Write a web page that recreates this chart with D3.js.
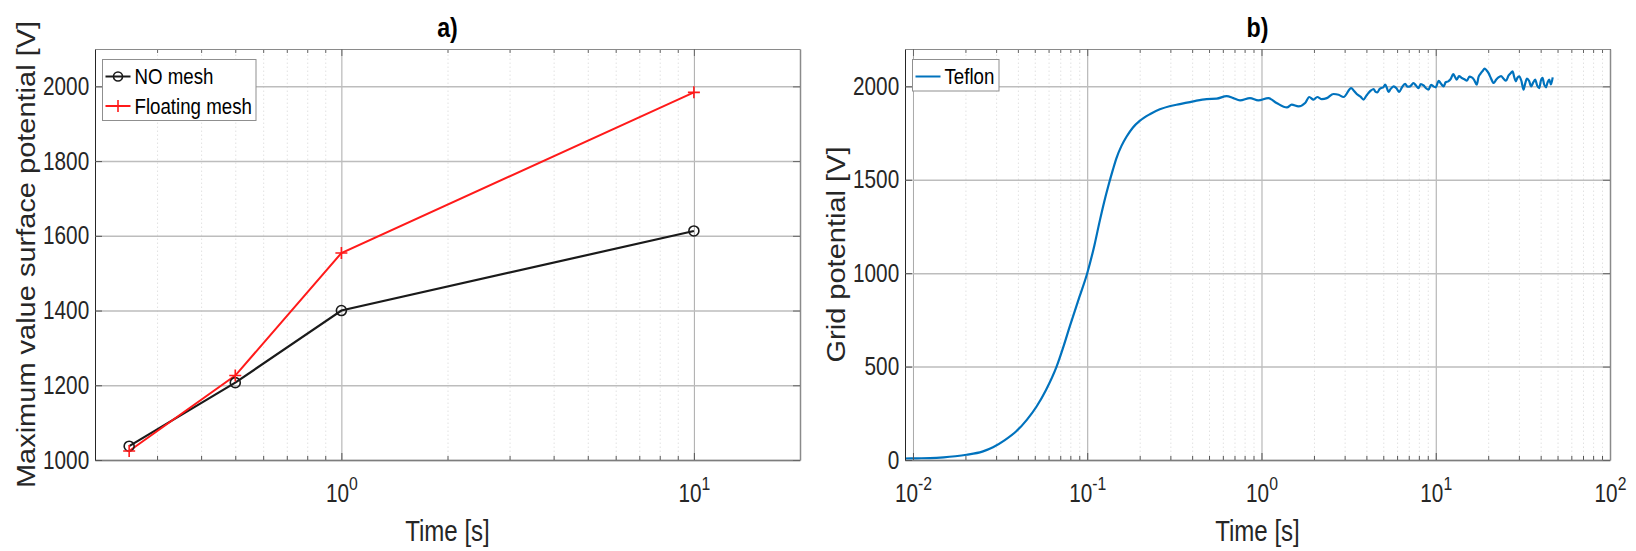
<!DOCTYPE html>
<html>
<head>
<meta charset="utf-8">
<script src="https://cdn.jsdelivr.net/npm/d3@7"></script>
<style>
  body { margin: 0; background: #fff; }
  svg { display: block; font-family: "Liberation Sans", Arial, Helvetica, sans-serif; }
</style>
</head>
<body>
<div id="wrapper"></div>
<script>
// ---- data ----
const timesA = [0.25, 0.5, 1, 10]
const noMesh = [1037, 1207, 1400, 1613]
const floatingMesh = [1024, 1226, 1554, 1984]
const xMajorA = [1, 10]
const yTicksA = [1000, 1200, 1400, 1600, 1800, 2000]

const xMajorB = [0.01, 0.1, 1, 10, 100]
const yTicksB = [0, 500, 1000, 1500, 2000]

// Teflon grid potential, [time s, volts]
const teflon = [
  [0.009, 8], [0.0105, 9], [0.0125, 10], [0.015, 14], [0.0175, 20], [0.0203, 28],
  [0.025, 45], [0.0288, 68], [0.0335, 105], [0.0393, 155], [0.045, 215], [0.0511, 285],
  [0.058, 375], [0.0667, 500], [0.0735, 615], [0.0794, 715], [0.09, 870], [0.1, 1000],
  [0.11, 1150], [0.118, 1280], [0.125, 1380], [0.132, 1465], [0.14, 1550], [0.147, 1615],
  [0.157, 1680], [0.168, 1730], [0.183, 1780], [0.2, 1815], [0.23, 1852], [0.261, 1877],
  [0.3, 1895], [0.34, 1905], [0.406, 1920], [0.484, 1932], [0.553, 1934], [0.631, 1948],
  [0.689, 1937], [0.753, 1925], [0.859, 1937], [0.959, 1925], [1.095, 1937], [1.22, 1911],
  [1.40, 1887], [1.49, 1902], [1.63, 1893], [1.78, 1911], [1.88, 1943], [1.99, 1929],
  [2.09, 1943], [2.22, 1932], [2.37, 1937], [2.59, 1959], [2.77, 1955], [2.96, 1943],
  [3.27, 1991], [3.4, 1975], [3.52, 1959], [3.7, 1945], [3.85, 1929], [4.0, 1950],
  [4.11, 1964], [4.25, 1978], [4.40, 1986], [4.5, 1972], [4.63, 1968], [4.75, 1985],
  [4.86, 1991], [5.0, 1995], [5.13, 2009], [5.25, 1990], [5.36, 1970], [5.5, 1985],
  [5.73, 2000], [5.95, 1990], [6.17, 1970], [6.4, 1995], [6.67, 2013], [6.9, 1998],
  [7.13, 2000], [7.3, 2010], [7.45, 2018], [7.7, 2005], [7.96, 1991], [8.2, 2012],
  [8.51, 2005], [8.8, 1990], [9.08, 1982], [9.4, 2008], [9.70, 2000], [10.0, 1995],
  [10.4, 2030], [10.7, 2015], [11.1, 2000], [11.4, 2022], [11.8, 2027], [12.2, 2040],
  [12.6, 2066], [12.9, 2050], [13.2, 2036], [13.6, 2055], [14.1, 2045], [14.6, 2038],
  [15.1, 2030], [15.6, 2052], [16.1, 2048], [16.6, 2035], [17.2, 2009], [17.6, 2050],
  [18.0, 2066], [18.5, 2080], [19.1, 2095], [19.6, 2085], [20.1, 2071], [20.7, 2045],
  [21.5, 2018], [22.2, 2035], [22.9, 2048], [23.7, 2055], [24.5, 2041], [25.3, 2030],
  [26.2, 2059], [26.9, 2070], [27.6, 2080], [28.2, 2050], [28.8, 2027], [29.4, 2045],
  [30.1, 2054], [31.0, 2030], [31.9, 1982], [32.6, 2015], [33.4, 2041], [34.3, 2030],
  [35.3, 2000], [36.2, 2020], [37.2, 2036], [38.2, 2005], [39.3, 1991], [40.1, 2030],
  [41.0, 2045], [41.9, 2010], [42.9, 1995], [43.8, 2020], [44.8, 2036], [45.8, 2010],
  [46.9, 2048]
]

// ---- layout ----
const width = 1636
const height = 551
const plotTop = 49
const plotBottom = 460
const SQ = 0.83   // horizontal squeeze of the text in the original figure
const textColor = "#262626"

const svg = d3.select("#wrapper").append("svg")
  .attr("width", width)
  .attr("height", height)

function minorTicks(domain) {
  const lo = Math.floor(Math.log10(domain[0]))
  const hi = Math.ceil(Math.log10(domain[1]))
  return d3.range(lo, hi).flatMap(p => d3.range(2, 10).map(k => k * Math.pow(10, p)))
    .filter(v => v > domain[0] * 1.001 && v < domain[1] * 0.999)
}

function supLabel(sel, v) {
  const p = Math.round(Math.log10(v))
  sel.text(null)
  sel.append("tspan").text("10")
  sel.append("tspan").text(String(p))
    .attr("font-size", 19)
    .attr("dy", -12)
}

function drawPanel(cfg) {
  const x = d3.scaleLog().domain(cfg.xDomain).range([cfg.left, cfg.right])
  const y = d3.scaleLinear().domain(cfg.yDomain).range([plotBottom, plotTop])
  const w = cfg.right - cfg.left
  const h = plotBottom - plotTop
  const minor = minorTicks(cfg.xDomain)
  const major = cfg.xMajor.filter(v => v >= cfg.xDomain[0] && v <= cfg.xDomain[1])

  // grid
  svg.append("g")
      .attr("transform", `translate(0,${plotBottom})`)
    .call(d3.axisBottom(x).tickValues(minor).tickSize(-h).tickFormat(""))
    .call(a => a.select(".domain").remove())
    .call(a => a.selectAll("line").attr("stroke", "#e2e2e2").attr("stroke-dasharray", "1.5,2.5"))

  svg.append("g")
      .attr("transform", `translate(0,${plotBottom})`)
    .call(d3.axisBottom(x).tickValues(major).tickSize(-h).tickFormat(""))
    .call(a => a.select(".domain").remove())
    .call(a => a.selectAll("line").attr("stroke", "#a9a9a9"))

  svg.append("g")
      .attr("transform", `translate(${cfg.left},0)`)
    .call(d3.axisLeft(y).tickValues(cfg.yTicks).tickSize(-w).tickFormat(""))
    .call(a => a.select(".domain").remove())
    .call(a => a.selectAll("line").attr("stroke", "#bdbdbd").attr("stroke-width", 1.5))

  // data
  cfg.drawData(x, y)

  // axes (ticks point inward, MATLAB style)
  const bottom = svg.append("g")
      .attr("transform", `translate(0,${plotBottom})`)
  bottom.append("g")
    .call(d3.axisBottom(x).tickValues(minor).tickSizeInner(-4).tickSizeOuter(0).tickFormat(""))
    .call(a => a.select(".domain").remove())
    .call(a => a.selectAll("line").attr("stroke", "#555"))
  bottom.append("g")
    .call(d3.axisBottom(x).tickValues(major).tickSizeInner(-7).tickSizeOuter(0))
    .call(a => a.select(".domain").attr("stroke", "#7d7d7d").attr("stroke-width", 1.5))
    .call(a => a.selectAll("line").attr("stroke", "#555"))
    .call(a => a.selectAll("text")
      .attr("font-size", 25)
      .attr("fill", textColor)
      .attr("y", 42)
      .attr("dy", null)
      .attr("transform", `scale(${SQ},1)`)
      .each(function(d) { supLabel(d3.select(this), d) }))

  const top = svg.append("g")
      .attr("transform", `translate(0,${plotTop})`)
  top.append("g")
    .call(d3.axisTop(x).tickValues(minor).tickSizeInner(-4).tickSizeOuter(0).tickFormat(""))
    .call(a => a.select(".domain").remove())
    .call(a => a.selectAll("line").attr("stroke", "#666"))
  top.append("g")
    .call(d3.axisTop(x).tickValues(major).tickSizeInner(-7).tickSizeOuter(0).tickFormat(""))
    .call(a => a.select(".domain").attr("stroke", "#8a8a8a"))
    .call(a => a.selectAll("line").attr("stroke", "#666"))

  svg.append("g")
      .attr("transform", `translate(${cfg.left},0)`)
    .call(d3.axisLeft(y).tickValues(cfg.yTicks).tickSizeInner(-7).tickSizeOuter(0).tickPadding(7)
      .tickFormat(d3.format("d")))
    .call(a => a.select(".domain").attr("stroke", "#262626"))
    .call(a => a.selectAll("line").attr("stroke", "#555"))
    .call(a => a.selectAll("text")
      .attr("font-size", 25)
      .attr("fill", textColor)
      .attr("transform", `scale(${SQ},1)`))

  svg.append("g")
      .attr("transform", `translate(${cfg.right},0)`)
    .call(d3.axisRight(y).tickValues(cfg.yTicks).tickSizeInner(-7).tickSizeOuter(0).tickFormat(""))
    .call(a => a.select(".domain").attr("stroke", "#8a8a8a").attr("stroke-width", 1.5))
    .call(a => a.selectAll("line").attr("stroke", "#666"))

  // title and labels
  const cx = (cfg.left + cfg.right) / 2
  svg.append("text")
      .attr("transform", `translate(${cx},37) scale(${SQ},1)`)
      .attr("text-anchor", "middle")
      .attr("font-size", 28)
      .attr("font-weight", "bold")
      .attr("fill", "#000")
      .text(cfg.title)

  svg.append("text")
      .attr("transform", `translate(${cx},541) scale(${SQ},1)`)
      .attr("text-anchor", "middle")
      .attr("font-size", 29)
      .attr("fill", textColor)
      .text("Time [s]")

  svg.append("text")
      .attr("transform", `translate(${cfg.yLabelX},${(plotTop + plotBottom) / 2}) rotate(-90) scale(1,${SQ + 0.03})`)
      .attr("text-anchor", "middle")
      .attr("font-size", 29)
      .attr("fill", textColor)
      .text(cfg.yLabel)

  // legend
  const lg = svg.append("g")
      .attr("transform", `translate(${cfg.legend.x},${cfg.legend.y})`)
  lg.append("rect")
      .attr("width", cfg.legend.w)
      .attr("height", cfg.legend.h)
      .attr("fill", "#fff")
      .attr("stroke", "#8f8f8f")
  cfg.legend.items.forEach((it, i) => {
    const row = lg.append("g").attr("transform", `translate(0,${17 + i * 29.5})`)
    row.append("line")
        .attr("x1", 3).attr("x2", 28)
        .attr("stroke", it.color)
        .attr("stroke-width", 2)
    if (it.marker === "circle") {
      row.append("circle").attr("cx", 15.5).attr("r", 4.5)
          .attr("fill", "none").attr("stroke", it.color).attr("stroke-width", 1.6)
    } else if (it.marker === "plus") {
      row.append("path").attr("d", "M9.5,0H21.5M15.5,-6V6")
          .attr("stroke", it.color).attr("stroke-width", 1.6)
    }
    row.append("text")
        .attr("transform", `translate(32,0) scale(${SQ + 0.02},1)`)
        .attr("dy", "0.35em")
        .attr("font-size", 22)
        .attr("fill", "#000")
        .text(it.label)
  })
}

// panel a
drawPanel({
  title: "a)",
  left: 95, right: 800,
  xDomain: [0.2, 20],
  yDomain: [1000, 2100],
  xMajor: xMajorA,
  yTicks: yTicksA,
  yLabel: "Maximum value surface potential [V]",
  yLabelX: 35,
  legend: {
    x: 102.5, y: 59.5, w: 153.5, h: 61,
    items: [
      { label: "NO mesh", color: "#1a1a1a", marker: "circle" },
      { label: "Floating mesh", color: "#ff1a1a", marker: "plus" }
    ]
  },
  drawData: (x, y) => {
    const line = d3.line().x(d => x(d[0])).y(d => y(d[1]))
    const noMeshPts = timesA.map((t, i) => [t, noMesh[i]])
    const floatPts = timesA.map((t, i) => [t, floatingMesh[i]])
    svg.append("path").attr("d", line(noMeshPts))
        .attr("fill", "none").attr("stroke", "#1a1a1a").attr("stroke-width", 2.2)
    svg.append("path").attr("d", line(floatPts))
        .attr("fill", "none").attr("stroke", "#ff1a1a").attr("stroke-width", 2)
    svg.append("g").selectAll("circle").data(noMeshPts).join("circle")
        .attr("cx", d => x(d[0])).attr("cy", d => y(d[1])).attr("r", 5)
        .attr("fill", "none").attr("stroke", "#1a1a1a").attr("stroke-width", 1.6)
    svg.append("g").selectAll("path").data(floatPts).join("path")
        .attr("transform", d => `translate(${x(d[0])},${y(d[1])})`)
        .attr("d", "M-6,0H6M0,-6V6")
        .attr("stroke", "#ff1a1a").attr("stroke-width", 1.6)
  }
})

// panel b
drawPanel({
  title: "b)",
  left: 905, right: 1610,
  xDomain: [0.009, 100],
  yDomain: [0, 2200],
  xMajor: xMajorB,
  yTicks: yTicksB,
  yLabel: "Grid potential [V]",
  yLabelX: 845,
  legend: {
    x: 912.5, y: 59.5, w: 86.5, h: 31.5,
    items: [
      { label: "Teflon", color: "#0072bd", marker: null }
    ]
  },
  drawData: (x, y) => {
    const pts = d3.sort(teflon, d => d[0])
    const line = d3.line().x(d => x(d[0])).y(d => y(d[1])).curve(d3.curveMonotoneX)
    svg.append("path").attr("d", line(pts))
        .attr("fill", "none").attr("stroke", "#0072bd").attr("stroke-width", 2.2)
        .attr("stroke-linejoin", "round")
  }
})
</script>
</body>
</html>
